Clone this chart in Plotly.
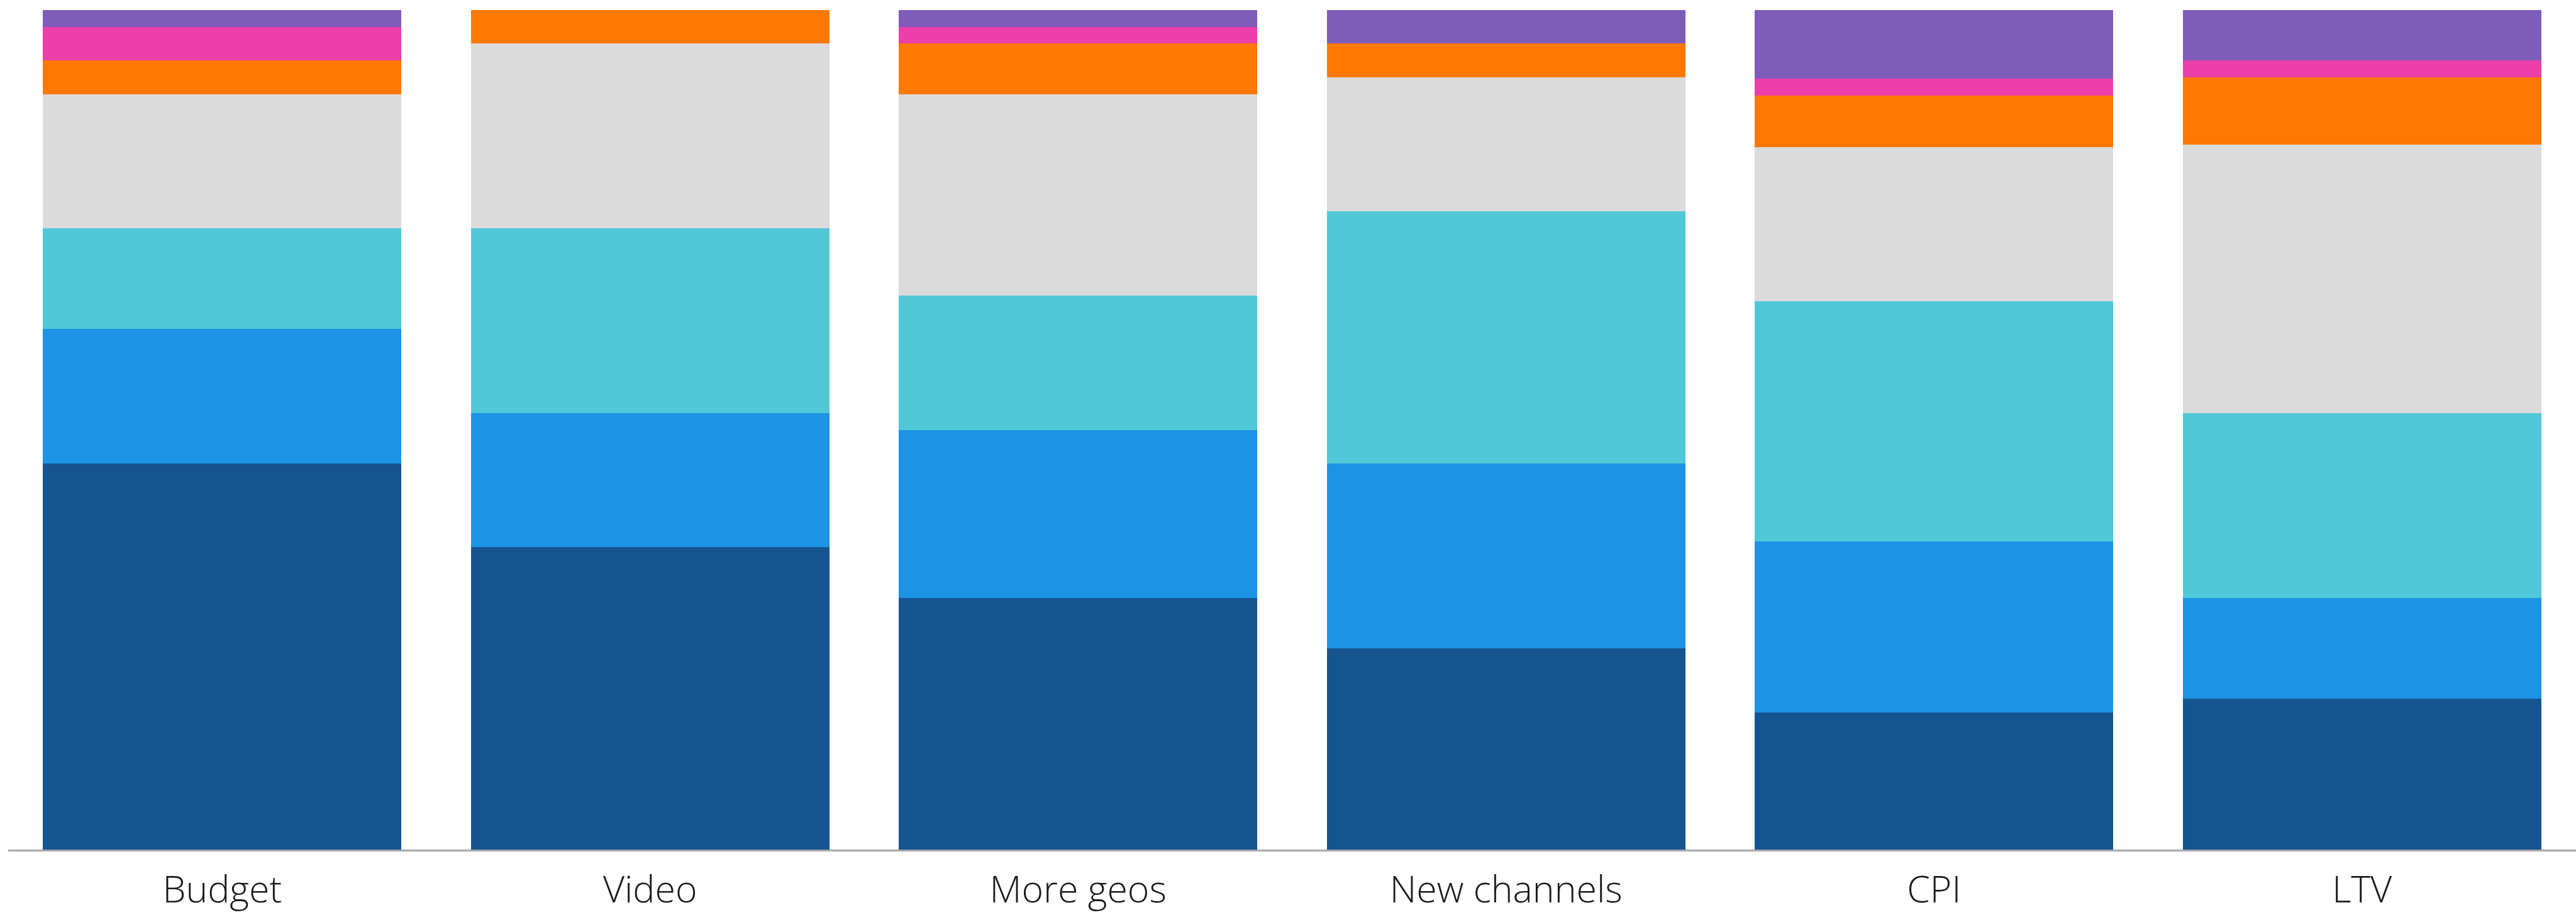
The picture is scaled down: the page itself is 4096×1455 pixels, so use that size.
import plotly.graph_objects as go

categories = ["Budget", "Video", "More geos", "New channels", "CPI", "LTV"]

# stacked shares (%) from bottom to top
seg_dark_blue = [46, 36, 30, 24, 16.33, 18]
seg_blue = [16, 16, 20, 22, 20.41, 12]
seg_cyan = [12, 22, 16, 30, 28.57, 22]
seg_grey = [16, 22, 24, 16, 18.37, 32]
seg_orange = [4, 4, 6, 4, 6.12, 8]
seg_pink = [4, 0, 2, 0, 2.04, 2]
seg_purple = [2, 0, 2, 4, 8.16, 6]

series = [
    ("s1", seg_dark_blue, "#16548F"),
    ("s2", seg_blue, "#1C93E4"),
    ("s3", seg_cyan, "#50C8D8"),
    ("s4", seg_grey, "#DBDBDB"),
    ("s5", seg_orange, "#FF7802"),
    ("s6", seg_pink, "#EC3FAA"),
    ("s7", seg_purple, "#7E5CBA"),
]

fig = go.Figure()
for name, vals, col in series:
    fig.add_trace(go.Bar(
        x=categories, y=vals, name=name,
        marker=dict(color=col, line=dict(width=0)),
        hoverinfo="skip",
    ))

fig.update_layout(
    barmode="stack",
    bargap=0.163,
    width=4096, height=1455,
    margin=dict(l=13, r=0, t=16, b=104, pad=0, autoexpand=False),
    paper_bgcolor="white",
    plot_bgcolor="white",
    showlegend=False,
    font=dict(family="Open Sans", size=59, color="#1a1a1a", weight=300),
    xaxis=dict(
        range=[-0.5, 5.5], automargin=False,
        showline=True, linecolor="#A8A8A8", linewidth=2.5,
        showgrid=False, zeroline=False,
        ticks="", ticklabelstandoff=10,
        tickfont=dict(family="Open Sans", size=59, color="#1a1a1a", weight=300),
    ),
    yaxis=dict(
        range=[0, 100], visible=False, showgrid=False, zeroline=False,
        automargin=False,
    ),
)

fig.write_html("out.html")
